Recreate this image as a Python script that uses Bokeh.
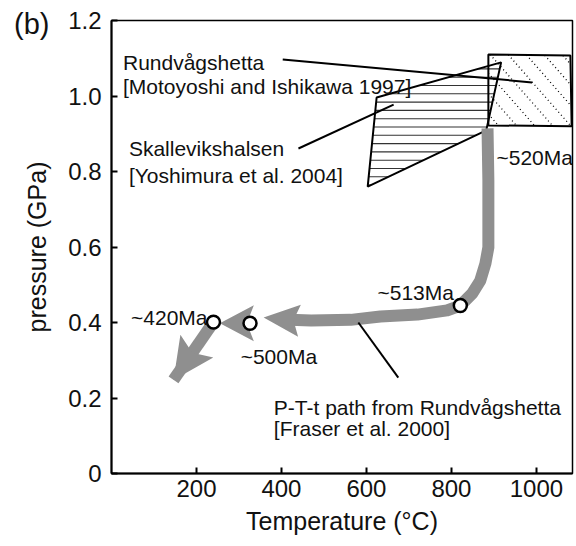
from bokeh.plotting import figure
from bokeh.models import Range1d, FixedTicker, Div
from bokeh.layouts import column
from bokeh.core.properties import value
from bokeh.embed import file_html
from bokeh.resources import INLINE

FONT = "Liberation Sans"

# Axis ranges and ticks
t_min, t_max = 0, 1085
p_min, p_max = 0, 1.2
t_ticks = [200, 400, 600, 800, 1000]
p_ticks = [0, 0.2, 0.4, 0.6, 0.8, 1.0, 1.2]
p_tick_labels = ["0", "0.2", "0.4", "0.6", "0.8", "1.0", "1.2"]

# Rundvågshetta field (Motoyoshi and Ishikawa 1997)
rund_T = [887, 1080, 1083, 887]
rund_P = [1.110, 1.107, 0.920, 0.922]

# Skallevikshalsen field (Yoshimura et al. 2004)
skal_T = [624, 917, 882, 603]
skal_P = [0.996, 1.089, 0.909, 0.760]

# P-T-t path from Rundvågshetta (Fraser et al. 2000)
path_T = [885, 887, 887, 880, 868, 849, 821, 790, 720, 633, 563, 470, 420]
path_P = [0.914, 0.776, 0.599, 0.556, 0.511, 0.477, 0.445, 0.432, 0.421, 0.416, 0.407, 0.405, 0.407]

# dated points on the path
age_T = [821, 326, 240]
age_P = [0.445, 0.398, 0.401]

# arrows: tail -> tip
arrow_tail_T = [430, 326, 240]
arrow_tail_P = [0.406, 0.398, 0.401]
arrow_tip_T = [358, 255, 146]
arrow_tip_P = [0.413, 0.398, 0.248]

# leader lines
lead_T0 = [403, 440, 581]
lead_P0 = [1.097, 0.861, 0.400]
lead_T1 = [990, 664, 675]
lead_P1 = [1.036, 0.977, 0.254]

# annotation texts
ann_text = ["Rundvågshetta", "[Motoyoshi and Ishikawa 1997]",
            "Skallevikshalsen", "[Yoshimura et al. 2004]",
            "~520Ma", "~513Ma", "~420Ma", "~500Ma",
            "P-T-t path from Rundvågshetta", "[Fraser et al. 2000]"]
ann_T = [27, 27, 41, 41, 906, 626, 46, 304, 382, 382]
ann_P = [1.089, 1.025, 0.861, 0.789, 0.837, 0.479, 0.413, 0.310, 0.175, 0.119]

W, H = 576, 546
BL, BR, BT, BB = 111, 4, 20, 73
sx = (W - BL - BR) / (t_max - t_min)   # px per degree
sy = (H - BT - BB) / (p_max - p_min)   # px per GPa

TEXT = "#111111"

p = figure(width=W, height=H, x_range=Range1d(t_min, t_max), y_range=Range1d(p_min, p_max),
           output_backend="svg", toolbar_location=None,
           min_border_left=BL, min_border_right=BR, min_border_top=BT, min_border_bottom=BB)
p.grid.visible = False
p.outline_line_color = "black"
p.outline_line_width = 1.5
p.background_fill_color = "white"
p.border_fill_color = "white"

p.xaxis.ticker = FixedTicker(ticks=t_ticks)
p.yaxis.ticker = FixedTicker(ticks=p_ticks)
p.yaxis.major_label_overrides = {t: s for t, s in zip(p_ticks, p_tick_labels)}
p.xaxis.axis_label = "Temperature (°C)"
p.yaxis.axis_label = "pressure (GPa)"
for ax in (p.xaxis, p.yaxis):
    ax.axis_line_width = 2
    ax.major_tick_line_width = 2
    ax.major_tick_in = 6
    ax.major_tick_out = 0
    ax.minor_tick_line_color = None
    ax.major_label_text_font = FONT
    ax.major_label_text_font_size = "24px"
    ax.major_label_text_color = TEXT
    ax.axis_label_text_font = FONT
    ax.axis_label_text_font_size = "25px"
    ax.axis_label_text_font_style = "normal"
    ax.axis_label_text_color = TEXT
p.xaxis.major_label_standoff = 6
p.xaxis.axis_label_standoff = 7
p.yaxis.major_label_standoff = 10
p.yaxis.axis_label_standoff = 14


def hatch_segments(xs, ys, normal, levels):
    """Clip the lines normal . (x, y) = c to a convex polygon."""
    nx, ny = normal
    x0s, y0s, x1s, y1s = [], [], [], []
    n = len(xs)
    for c in levels:
        pts = []
        for i in range(n):
            ax_, ay_ = xs[i], ys[i]
            bx_, by_ = xs[(i + 1) % n], ys[(i + 1) % n]
            fa = nx * ax_ + ny * ay_ - c
            fb = nx * bx_ + ny * by_ - c
            if fa * fb <= 0 and fa != fb:
                t = fa / (fa - fb)
                pts.append((ax_ + t * (bx_ - ax_), ay_ + t * (by_ - ay_)))
        if len(pts) >= 2:
            pts.sort()
            x0s.append(pts[0][0]); y0s.append(pts[0][1])
            x1s.append(pts[-1][0]); y1s.append(pts[-1][1])
    return x0s, y0s, x1s, y1s


def frange(a, b, step):
    out = []
    v = a
    while v <= b:
        out.append(v)
        v += step
    return out


# horizontal hatching of the Skallevikshalsen field (every ~8 px)
step_h = 8.3 / sy
hx0, hy0, hx1, hy1 = hatch_segments(skal_T, skal_P, (0.0, 1.0),
                                     frange(min(skal_P) + 0.004, max(skal_P), step_h))
p.segment(hx0, hy0, hx1, hy1, line_color="#333333", line_width=1.1)
p.patch(skal_T, skal_P, fill_color=None, line_color="black", line_width=2)

# dotted diagonal hatching of the Rundvågshetta field
m = 1.14 * sx / sy
cs = [pp + m * tt for tt, pp in zip(rund_T, rund_P)]
dx0, dy0, dx1, dy1 = hatch_segments(rund_T, rund_P, (m, 1.0),
                                     frange(min(cs) + 0.03, max(cs), 18 * m / sx))
p.segment(dx0, dy0, dx1, dy1, line_color="black", line_width=1.3, line_dash="1 3")
p.patch(rund_T, rund_P, fill_color=None, line_color="black", line_width=2)

GRAY = "#8f8f8f"

# P-T-t path
p.line(path_T, path_P, line_color=GRAY, line_width=12, line_join="round")
# shaft towards the last arrow
p.line([arrow_tail_T[2], arrow_tip_T[2]], [arrow_tail_P[2], arrow_tip_P[2]],
       line_color=GRAY, line_width=12)


def arrow_head(tail_t, tail_p, tip_t, tip_p, length, half_w, notch):
    ux = (tip_t - tail_t) * sx
    uy = (tip_p - tail_p) * sy
    d = (ux * ux + uy * uy) ** 0.5
    ux, uy = ux / d, uy / d
    px_, py_ = -uy, ux
    pts = [(0, 0),
           (-length * ux + half_w * px_, -length * uy + half_w * py_),
           (-(length - notch) * ux, -(length - notch) * uy),
           (-length * ux - half_w * px_, -length * uy - half_w * py_)]
    return ([tip_t + a / sx for a, b in pts], [tip_p + b / sy for a, b in pts])


heads = [(36, 16, 6), (34, 18, 7), (41, 20, 8)]
hxs, hys = [], []
for i, (L, Wd, N) in enumerate(heads):
    xs_, ys_ = arrow_head(arrow_tail_T[i], arrow_tail_P[i], arrow_tip_T[i], arrow_tip_P[i], L, Wd, N)
    hxs.append(xs_); hys.append(ys_)
p.patches(hxs, hys, fill_color=GRAY, line_color=None)

# age markers
p.scatter(age_T, age_P, size=13, fill_color="white", line_color="black", line_width=2.5)

# leader lines
p.segment(lead_T0, lead_P0, lead_T1, lead_P1, line_color="black", line_width=2)

# annotations
p.text(ann_T, ann_P, text=ann_text, text_font=value(FONT), text_font_size="21px",
       text_color=TEXT, text_align="left", text_baseline="alphabetic")

# panel letter in the top-left corner of the page
panel_tag = Div(
    text=f'<div style="font-family:\'{FONT}\';font-size:29px;line-height:29px;color:{TEXT}">(b)</div>',
    styles={"position": "absolute", "left": "9px", "top": "5px", "z-index": "5"})

page = column(p, panel_tag)
open("out.html", "w").write(file_html(page, INLINE))
